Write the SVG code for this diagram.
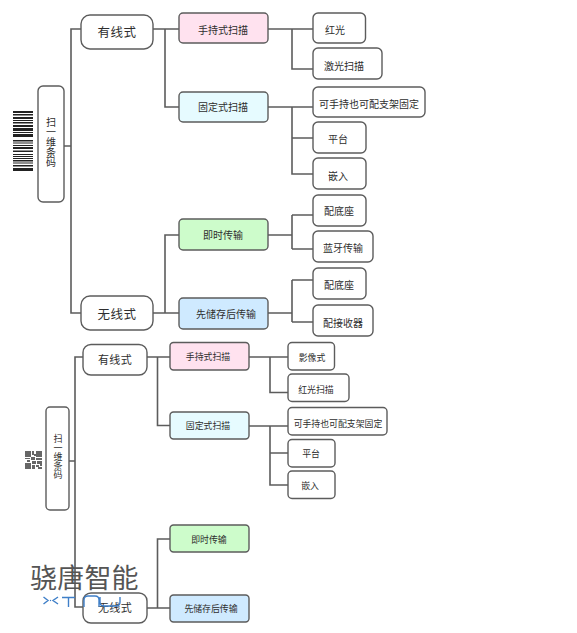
<svg xmlns="http://www.w3.org/2000/svg" width="577" height="633" viewBox="0 0 577 633">
<style>
.n{fill:#fff;stroke:#5c5c5c;stroke-width:1.4}
.pk{fill:#ffe2ef}.cy{fill:#e6fbff}.gr{fill:#cdfccb}.bl{fill:#cfeaff}
.c{fill:none;stroke:#5c5c5c;stroke-width:1.6}
text{font-family:"Noto Sans CJK SC","Noto Sans",sans-serif;fill:#2e2e2e;text-anchor:middle;dominant-baseline:central}
.a{font-size:12.5px;letter-spacing:.5px}.b{font-size:10px}.d{font-size:11px;letter-spacing:.3px}.e{font-size:8.9px}
.v{font-size:10px}.w{font-size:9px}
.bar{fill:#222}.q{fill:#333}
.wm{font-size:27px;fill:#555;letter-spacing:.2px;text-anchor:start}
.lg{fill:none;stroke:#3f7fc8;stroke-width:1.4}
</style>
<g id="connectors">
<path class="c" d="M64 146H71M81 29H71V313H81M153 29H179M165 29V107H179M153 313H179M165 313V235H179"/>
<path class="c" d="M268 29H313M292 29V69H313M268 107H313M292 107V174H313M292 138H313M268 235H292M292 215V249M292 215H313M292 249H313M268 313H292M292 280V322M292 280H313M292 322H313"/>
<path class="c" d="M69 461H75M83 357H75V607H83M147 357H170M157.500 357V425.500H170M147 608H170M157.500 608V539H170"/>
<path class="c" d="M249 357H288M270 357V392.500H288M249 426H288M270 426V485H288M270 453H288"/>
</g>
<g id="barcode">
<path class="bar" d="M13 111h20v2H13zM13 114h20v1.500H13zM13 117h20v2H13zM13 120h20v1H13zM13 122h20v1.500H13zM13 125h20v2H13zM13 128h20v3H13zM13 132h20v1H13zM13 134h20v3H13zM13 140h20v1.500H13zM13 142.500h20v1H13zM13 145h20v1H13zM13 147h20v2H13zM13 150.500h20v1.500H13zM13 154h20v1H13zM13 156h20v1H13zM13 158h20v1H13zM13 160h20v1.500H13zM13 162.500h20v1H13zM13 165h20v1.500H13zM13 168h20v3H13z"/>
</g>
<g id="qrcode">
<path class="q" opacity=".75" d="M25 451h6v6h-6zM36 451h6v6h-6zM25 463h6v6h-6zM32 451h2v4h-2zM34 454h2v2h-2zM25 458h5v1h-5zM27 460h3v2h-3zM31 457h4v3h-4zM36 458h6v2h-6zM32 461h4v3h-4zM37 461h5v3h-5zM32 465h3v4h-3zM36 465h3v2h-3zM38 467h4v2h-4zM40 464h2v2h-2z"/>
</g>
<g id="n1"><rect class="n" x="38" y="86" width="26" height="116" rx="5"/><text class="v" x="51 51 51 51 51" y="121 131 141.500 151.500 161.500">扫一维条码</text></g>
<g id="n2"><rect class="n" x="81" y="15" width="72" height="34" rx="9"/><text class="a" x="117" y="31">有线式</text></g>
<g id="n3"><rect class="n" x="81" y="296" width="72" height="34" rx="9"/><text class="a" x="117" y="313">无线式</text></g>
<g id="n4"><rect class="n pk" x="179" y="13" width="89" height="30" rx="4"/><text class="b" x="223" y="29">手持式扫描</text></g>
<g id="n5"><rect class="n cy" x="179" y="92" width="89" height="30" rx="4"/><text class="b" x="223" y="106">固定式扫描</text></g>
<g id="n6"><rect class="n gr" x="179" y="219" width="89" height="31" rx="4"/><text class="b" x="223" y="234">即时传输</text></g>
<g id="n7"><rect class="n bl" x="179" y="298" width="89" height="31" rx="4"/><text class="b" x="226" y="313">先储存后传输</text></g>
<g id="n8"><rect class="n" x="313" y="13" width="52.500" height="30" rx="5"/><text class="b" x="335" y="29">红光</text></g>
<g id="n9"><rect class="n" x="313" y="48" width="69" height="31" rx="5"/><text class="b" x="344" y="65">激光扫描</text></g>
<g id="n10"><rect class="n" x="313" y="87" width="112" height="30" rx="5"/><text class="b" x="369" y="103">可手持也可配支架固定</text></g>
<g id="n11"><rect class="n" x="313" y="122" width="53" height="31" rx="5"/><text class="b" x="338" y="138">平台</text></g>
<g id="n12"><rect class="n" x="313" y="158" width="53" height="31" rx="5"/><text class="b" x="338" y="175">嵌入</text></g>
<g id="n13"><rect class="n" x="313" y="195" width="53" height="31" rx="5"/><text class="b" x="339" y="210">配底座</text></g>
<g id="n14"><rect class="n" x="313" y="231" width="60" height="31" rx="5"/><text class="b" x="343" y="247">蓝牙传输</text></g>
<g id="n15"><rect class="n" x="313" y="268" width="53" height="31" rx="5"/><text class="b" x="339" y="284">配底座</text></g>
<g id="n16"><rect class="n" x="313" y="305" width="60" height="31" rx="5"/><text class="b" x="343" y="322">配接收器</text></g>
<g id="m1"><rect class="n" x="46" y="407" width="23" height="103" rx="4"/><text class="w" x="58 58 58 58 58" y="438 447 456 465 474">扫一维条码</text></g>
<g id="m2"><rect class="n" x="83" y="344.500" width="64" height="30.500" rx="8"/><text class="d" x="115" y="359">有线式</text></g>
<g id="m3"><rect class="n" x="83" y="593" width="64" height="30" rx="8"/><text class="d" x="115" y="607">无线式</text></g>
<g id="m4"><rect class="n pk" x="170" y="342.500" width="79" height="27.500" rx="3.500"/><text class="e" x="208" y="356.500">手持式扫描</text></g>
<g id="m5"><rect class="n cy" x="170" y="412" width="79" height="27" rx="3.500"/><text class="e" x="208" y="425">固定式扫描</text></g>
<g id="m6"><rect class="n gr" x="170" y="525" width="79" height="27" rx="3.500"/><text class="e" x="209" y="539">即时传输</text></g>
<g id="m7"><rect class="n bl" x="170" y="595" width="79" height="27" rx="3.500"/><text class="e" x="211" y="608">先储存后传输</text></g>
<g id="m8"><rect class="n" x="288" y="342.500" width="46.500" height="27.500" rx="4"/><text class="e" x="312" y="357">影像式</text></g>
<g id="m9"><rect class="n" x="288" y="374" width="61" height="27.500" rx="4"/><text class="e" x="316" y="389">红光扫描</text></g>
<g id="m10"><rect class="n" x="288" y="407.500" width="99" height="27.500" rx="4"/><text class="e" x="338" y="423">可手持也可配支架固定</text></g>
<g id="m11"><rect class="n" x="288" y="439.500" width="47" height="27.500" rx="4"/><text class="e" x="311" y="453">平台</text></g>
<g id="m12"><rect class="n" x="288" y="471" width="47" height="27.500" rx="4"/><text class="e" x="310" y="485">嵌入</text></g>
<g id="watermark">
<text class="wm" x="30" y="576">骁唐智能</text>
<path class="lg" d="M43.500 597L48 600.500L43.500 604M58 597L53 600.500L58 604M62 597.500H75M68.500 597.500V607M84 607V600Q84 596 88 596H95Q99 596 99 600V607M100 597V602Q100 606 104 606H116Q120 606 120 602V597"/>
<circle cx="50.500" cy="600.500" r=".7" fill="#3f7fc8"/>
</g>
</svg>
